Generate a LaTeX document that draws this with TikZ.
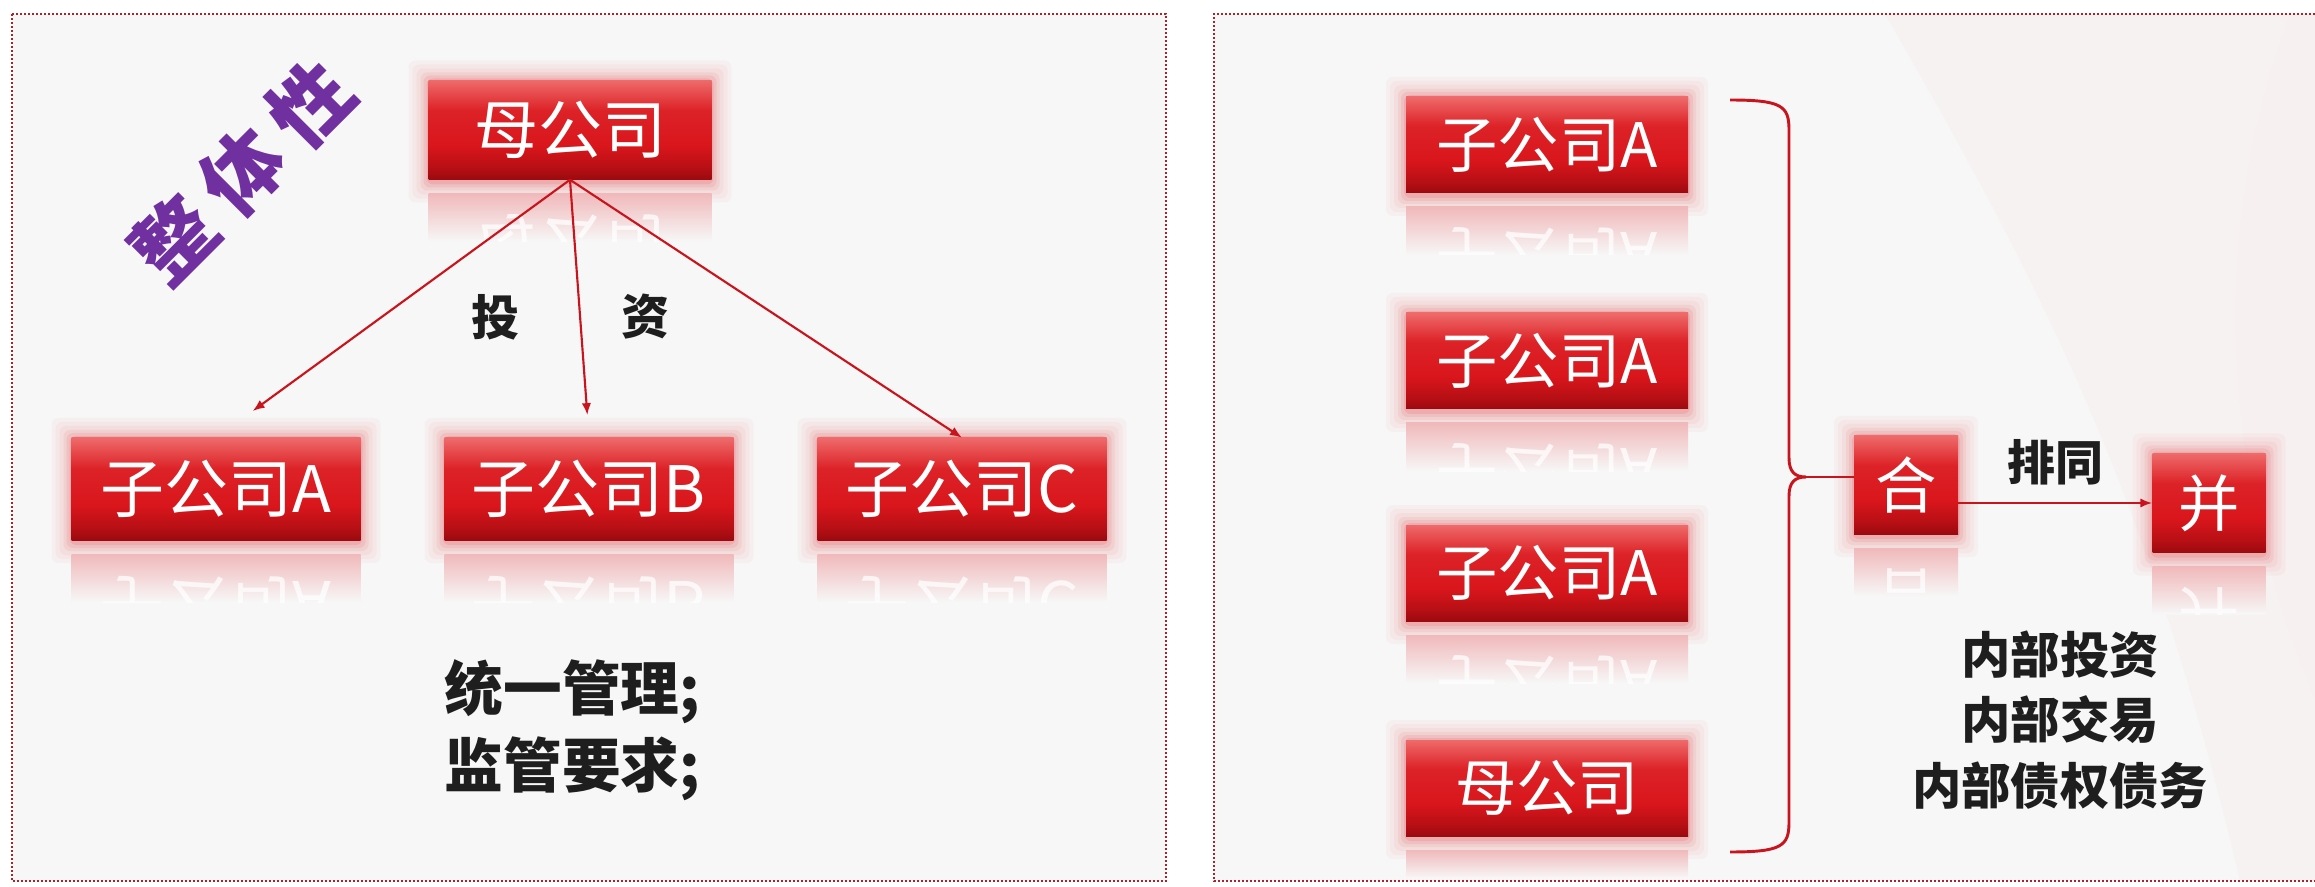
\documentclass[tikz,border=0pt]{standalone}
\usepackage{fontspec}
\newfontfamily\cjk{Noto Sans CJK SC}
\usetikzlibrary{arrows.meta,calc}
\definecolor{bg}{HTML}{F7F7F7}
\definecolor{framec}{HTML}{A8232B}
\definecolor{rtop}{HTML}{EE6A6A}
\definecolor{rmid}{HTML}{D9161C}
\definecolor{rbot}{HTML}{9A0A0F}
\definecolor{glowc}{HTML}{E0282E}
\definecolor{liner}{HTML}{C8151D}
\definecolor{purp}{HTML}{7030A0}
\definecolor{ink}{HTML}{1E1E1E}
\pgfdeclareverticalshading{rboxshade}{100bp}{color(0bp)=(rbot); color(25bp)=(rbot); color(31bp)=(rbot!55!rmid); color(42bp)=(rmid); color(60bp)=(rmid!85!rtop); color(75bp)=(rtop); color(100bp)=(rtop)}
\tikzset{
  rboxstyle/.style={rectangle, inner sep=0pt, text=white, shading=rboxshade},
  arr/.style={draw=liner, line width=1.6pt, -{Latex[length=9pt,width=7pt]}},
  framestyle/.style={draw=framec, line width=2.2pt, dash pattern=on 1.6pt off 1.4pt},
  lbl/.style={text=ink, font=\cjk\bfseries\fontsize{36}{36}\selectfont},
}
% glow + reflection strip
\newcommand\rglow[5]{%
  \foreach \gw/\go in {20/0.035,16/0.04,12/0.05,8/0.07,5/0.09,2/0.12}{
    \fill[glowc, opacity=\go, rounded corners=5pt] ({#1-#3/2-\gw},{#2-#4/2-\gw}) rectangle ({#1+#3/2+\gw},{#2+#4/2+\gw+3});
  }
  \shade[top color=glowc!30!bg, bottom color=bg] ({#1-#3/2},{#2+#4/2+14}) rectangle ({#1+#3/2},{min(#2+#4/2+62,#5)});
}
% box with mirrored reflection text
\newcommand\rbox[7]{%
  \rglow{#2}{#3}{#4}{#5}{876}
  \begin{scope}
    \clip ({#2-#4/2},{#3+#5/2+14}) rectangle ({#2+#4/2},{#3+#5/2+62});
    \node[yscale=-1, text=white, opacity=0.75, font=\cjk\fontsize{#6}{#6}\selectfont] at (#2,{#3+#5+14}) {#7};
  \end{scope}
  \node[rboxstyle, minimum width=#4*0.75pt, minimum height=#5*0.75pt, font=\cjk\fontsize{#6}{#6}\selectfont] (#1) at (#2,#3) {#7};
}
% box whose reflection is cut by the frame
\newcommand\rboxcut[7]{%
  \rglow{#2}{#3}{#4}{#5}{878}
  \node[rboxstyle, minimum width=#4*0.75pt, minimum height=#5*0.75pt, font=\cjk\fontsize{#6}{#6}\selectfont] (#1) at (#2,#3) {#7};
}
\begin{document}
\begin{tikzpicture}[x=0.75pt, y=-0.75pt]
\useasboundingbox (0,0) rectangle (2315,887);
\fill[white] (0,0) rectangle (2315,887);
\fill[bg] (12,14) rectangle (1166,881);
\fill[bg] (1214,14) rectangle (2315,881);
\fill[red!2!bg] (1885,14) .. controls (2050,300) and (2150,500) .. (2240,881) -- (2315,881) -- (2315,14) -- cycle;
\fill[red!3!bg] (2290,14) .. controls (2200,250) and (2230,500) .. (2315,700) -- (2315,14) -- cycle;
\draw[framestyle] (12,14) rectangle (1166,881);
\draw[framestyle] (2315,14) -- (1214,14) -- (1214,881) -- (2315,881);

% left panel
\node[rotate=45, text=purp, font=\cjk\bfseries\fontsize{60}{60}\selectfont] (zt) at (242,172) {整\hspace{12pt}体\hspace{12pt}性};
\rbox{m}{570}{130}{283}{99}{48}{母公司}
\rbox{a}{216}{489}{289}{102}{48}{子公司A}
\rbox{b}{589}{489}{289}{102}{48}{子公司B}
\rbox{c}{962}{489}{289}{102}{48}{子公司C}
\draw[arr, shorten >=34pt] (m.south) -- (a.north);
\draw[arr, shorten >=17pt] (m.south) -- (b.north);
\draw[arr] (m.south) -- (c.north);
\node[lbl] (t1) at (495,317) {投};
\node[lbl] (t2) at (645,317) {资};
\node[anchor=west, align=left, text=ink, font=\cjk\bfseries\fontsize{44}{58}\selectfont] (gl) at (440,730) {统一管理;\\监管要求;};

% right panel
\rbox{r1}{1547}{145}{282}{96}{46}{子公司A}
\rbox{r2}{1547}{361}{282}{96}{46}{子公司A}
\rbox{r3}{1547}{573}{282}{96}{46}{子公司A}
\rboxcut{r4}{1547}{788}{282}{96}{46}{母公司}
\rbox{h}{1906}{485}{104}{98}{46}{合}
\rbox{bi}{2209}{503}{113}{99}{46}{并}
\coordinate (tip) at (1806,477);
\draw[draw=liner, line width=2.2pt] (1730,100) .. controls (1782,100) and (1789,106) .. (1789,130) -- (1789,458) .. controls (1789,472) and (1795,477) .. (tip) .. controls (1795,477) and (1789,482) .. (1789,496) -- (1789,822) .. controls (1789,846) and (1782,852) .. (1730,852);
\draw[draw=liner, line width=2.2pt] (tip) -- (tip -| h.west);
\draw[arr] (h.east |- bi.west) -- (bi.west);
\node[lbl] (pt) at (2055,462) {排同};
\node[align=center, text=ink, font=\cjk\bfseries\fontsize{37}{49}\selectfont] (nb) at (2060,720) {内部投资\\内部交易\\内部债权债务};
\end{tikzpicture}
\end{document}
